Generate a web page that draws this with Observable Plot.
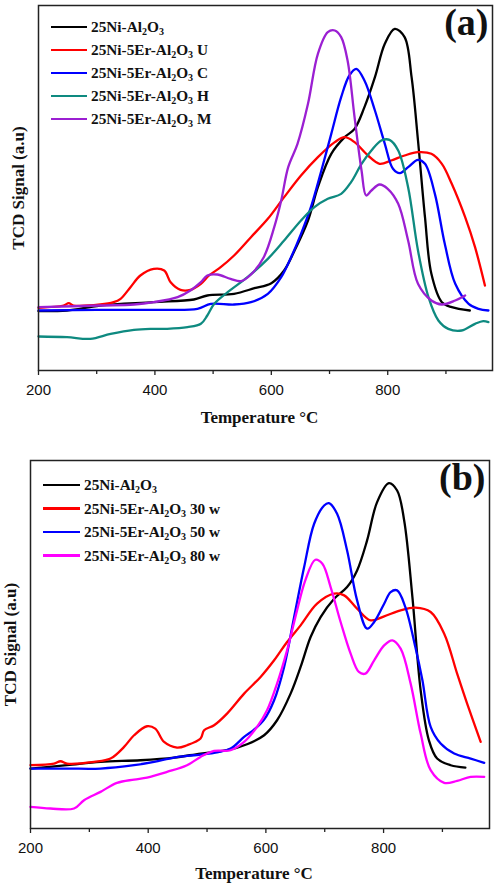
<!DOCTYPE html>
<html>
<head>
<meta charset="utf-8">
<script src="https://cdn.jsdelivr.net/npm/d3@7"></script>
<script src="https://cdn.jsdelivr.net/npm/@observablehq/plot@0.6"></script>
<style>
  body { margin: 0; background: #fff; }
  #wrap { width: 496px; }
  .panel { position: relative; width: 496px; }
  .legend { position: absolute; font-family: "Liberation Serif", "Times New Roman", serif; font-weight: bold; font-size: 15.3px; color: #111; }
  .row { position: absolute; white-space: nowrap; display: flex; align-items: center; height: 20px; }
  .sw { display: inline-block; height: 2.6px; margin-right: 4px; }
  .row sub { font-size: 10px; vertical-align: -3px; line-height: 0; }
</style>
</head>
<body>
<div id="wrap"></div>
<script>
// ---------- Data (TCD signal, arbitrary units) ----------
const xTicks = [200, 400, 600, 800];
const xMinorTicks = [300, 500, 700, 900];

// Panel (a)
const namesA = ["25Ni-Al2O3", "25Ni-5Er-Al2O3 U", "25Ni-5Er-Al2O3 C", "25Ni-5Er-Al2O3 H", "25Ni-5Er-Al2O3 M"];
const colorsA = ["#000000", "#ff0000", "#0000ff", "#0e8a80", "#9b1fd2"];
const a_Ni = [[200,178],[249,180],[306,195],[398,205],[467,213],[490,225],[536,230],[571,247],[600,262],[622,300],[640,360],[663,450],[680,550],[703,650],[726,700],[743,725],[760,790],[778,880],[795,980],[812,1025],[829,1000],[841,880],[852,690],[864,460],[875,290],[893,205],[910,190],[941,180]];
const a_U = [[200,188],[243,195],[252,202],[260,195],[306,198],[329,205],[341,215],[358,250],[375,285],[398,305],[416,300],[427,265],[444,242],[461,242],[479,260],[493,285],[513,310],[536,345],[565,400],[594,455],[622,520],[651,585],[680,640],[709,685],[726,700],[743,685],[766,645],[786,620],[806,630],[829,645],[852,655],[875,650],[893,620],[910,560],[933,460],[950,370],[967,255]];
const a_C = [[200,180],[300,182],[410,182],[473,185],[496,200],[536,198],[565,205],[594,230],[617,280],[634,340],[651,410],[668,490],[686,600],[703,710],[720,820],[734,885],[746,905],[760,870],[778,780],[795,680],[809,605],[821,592],[835,610],[852,632],[864,620],[881,530],[898,380],[916,260],[939,200],[956,185],[973,180]];
const a_H = [[200,102],[249,100],[289,95],[324,110],[364,122],[393,125],[421,125],[456,130],[479,140],[490,165],[502,200],[525,235],[559,280],[594,335],[622,390],[651,450],[674,490],[697,515],[720,530],[737,565],[755,620],[772,660],[789,690],[803,692],[818,660],[835,550],[852,360],[870,220],[887,150],[904,125],[927,120],[950,140],[964,148],[973,145]];
const a_M = [[200,190],[306,195],[364,198],[398,205],[439,220],[461,240],[479,265],[490,285],[507,288],[530,275],[548,268],[565,288],[587,340],[605,430],[617,510],[629,610],[645,680],[663,800],[680,950],[697,1015],[709,1020],[720,1000],[731,930],[743,760],[755,600],[763,525],[772,540],[786,558],[800,545],[818,500],[835,390],[852,260],[875,210],[893,198],[916,210],[933,225]];
const seriesA = [a_Ni, a_U, a_C, a_H, a_M];

// Panel (b)
const namesB = ["25Ni-Al2O3", "25Ni-5Er-Al2O3 30 w", "25Ni-5Er-Al2O3 50 w", "25Ni-5Er-Al2O3 80 w"];
const colorsB = ["#000000", "#ff0000", "#0000ff", "#ff00ff"];
const b_Ni = [[200,180],[262,190],[319,200],[387,205],[444,213],[489,225],[534,235],[568,253],[597,280],[619,325],[642,405],[659,485],[676,575],[693,635],[716,690],[738,725],[755,775],[772,865],[789,980],[809,1037],[823,1015],[835,925],[849,695],[863,415],[877,265],[891,210],[914,190],[939,183]];
const b_30 = [[200,190],[240,195],[251,202],[262,195],[308,200],[336,210],[359,245],[376,280],[398,307],[412,300],[427,260],[449,243],[466,250],[489,270],[495,295],[512,310],[534,345],[563,405],[591,455],[614,505],[636,560],[659,610],[687,675],[716,705],[733,700],[755,660],[778,625],[801,637],[829,655],[854,663],[880,650],[903,585],[925,465],[942,375],[965,260]];
const b_50 = [[200,180],[262,180],[319,180],[376,190],[410,200],[444,213],[478,220],[512,227],[540,240],[563,275],[580,297],[597,327],[614,385],[631,485],[648,635],[665,785],[682,915],[699,970],[707,977],[721,945],[738,835],[755,685],[772,600],[784,620],[801,675],[812,710],[823,715],[837,665],[854,545],[866,445],[880,305],[897,255],[920,225],[948,210],[971,197]];
const b_80 = [[200,65],[234,60],[274,60],[291,85],[319,110],[347,137],[376,147],[398,153],[432,170],[466,190],[489,215],[512,233],[540,235],[563,260],[585,305],[602,355],[619,435],[636,535],[653,655],[667,745],[684,807],[696,795],[710,725],[727,620],[744,525],[758,470],[769,465],[784,505],[801,550],[815,565],[829,540],[846,435],[863,285],[880,175],[903,137],[925,143],[948,155],[971,155]];
const seriesB = [b_Ni, b_30, b_50, b_80];

// ---------- Drawing ----------
const serif = "'Liberation Serif', 'Times New Roman', serif";
const sans = "'Liberation Sans', Arial, sans-serif";

function toRows(series, names) {
  const rows = [];
  series.forEach((s, i) => s.forEach(([t, v]) => rows.push({t, v, name: names[i]})));
  return rows;
}

function panel(cfg) {
  const rows = toRows(cfg.series, cfg.names);
  const svg = Plot.plot({
    width: 496, height: cfg.height,
    marginLeft: cfg.ml, marginRight: cfg.mr, marginTop: cfg.mt, marginBottom: cfg.mb,
    style: {fontFamily: sans, background: "white", overflow: "visible"},
    x: {domain: [200, 980]},
    y: {domain: cfg.ydomain, axis: null},
    color: {domain: cfg.names, range: cfg.colors},
    marks: [
      Plot.line(rows, {x: "t", y: "v", z: "name", stroke: "name", strokeWidth: 2.3, curve: "catmull-rom"}),
      Plot.frame({stroke: "#222", strokeWidth: 1.5}),
      Plot.axisX({ticks: xTicks, tickSize: 5, tickPadding: 9, fontSize: 15, fill: "#111", stroke: "#222", strokeWidth: 1.3, label: null}),
      Plot.axisX({ticks: xMinorTicks, tickSize: 4, text: null, stroke: "#222", strokeWidth: 1.3, label: null}),
      Plot.text(["Temperature °C"], {text: d => d, frameAnchor: "bottom", dy: cfg.xlabDy, dx: -6, fontFamily: serif, fontWeight: "bold", fontSize: 17, fill: "#111", lineAnchor: "middle"}),
      Plot.text(["TCD Signal (a.u)"], {text: d => d, frameAnchor: "left", textAnchor: "middle", lineAnchor: "middle", dx: -20, rotate: -90, fontFamily: serif, fontWeight: "bold", fontSize: 17, fill: "#111"}),
      Plot.text([cfg.tag], {text: d => d, frameAnchor: "top-right", textAnchor: "end", lineAnchor: "top", dx: -4, dy: cfg.tagDy, fontFamily: serif, fontWeight: "bold", fontSize: 38, fill: "#111"})
    ]
  });
  const div = document.createElement("div");
  div.className = "panel";
  div.style.height = cfg.height + "px";
  div.appendChild(svg);
  const leg = document.createElement("div");
  leg.className = "legend";
  leg.style.left = cfg.legLeft + "px";
  leg.style.top = cfg.legTop + "px";
  cfg.names.forEach((n, i) => {
    const r = document.createElement("div");
    r.className = "row";
    r.style.top = (i * cfg.legStep) + "px";
    const sw = document.createElement("span");
    sw.className = "sw";
    sw.style.width = cfg.swW + "px";
    sw.style.background = cfg.colors[i];
    r.appendChild(sw);
    const lab = document.createElement("span");
    lab.innerHTML = n.replace("Al2O3", "Al<sub>2</sub>O<sub>3</sub>");
    r.appendChild(lab);
    leg.appendChild(r);
  });
  div.appendChild(leg);
  document.getElementById("wrap").appendChild(div);
}

panel({series: seriesA, names: namesA, colors: colorsA, height: 437, ml: 38, mr: 4, mt: 5, mb: 67,
  ydomain: [0, 1095], xlabDy: 47, tag: "(a)", tagDy: 3, legLeft: 51, legTop: 17, legStep: 23, swW: 36});
panel({series: seriesB, names: namesB, colors: colorsB, height: 448, ml: 30, mr: 7, mt: 23, mb: 57,
  ydomain: [0, 1105], xlabDy: 45, tag: "(b)", tagDy: 3, legLeft: 43, legTop: 38, legStep: 23.5, swW: 37});
</script>
</body>
</html>
